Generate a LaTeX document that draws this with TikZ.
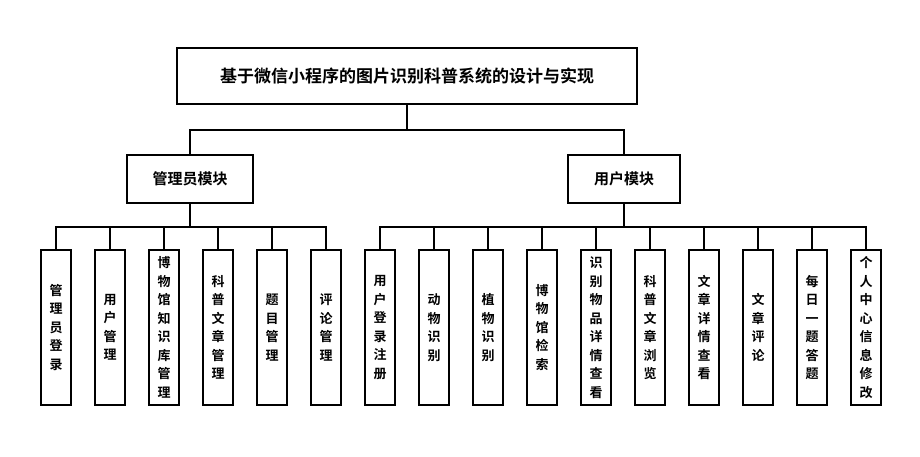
\documentclass[tikz,border=0pt]{standalone}
\usepackage{fontspec}
\newfontfamily\cjk[BoldFont={Noto Sans CJK SC Bold}]{Noto Sans CJK SC}
\begin{document}
\begin{tikzpicture}[x=1pt,y=-1pt,
  box/.style={draw,line width=1.4pt,fill=white,inner sep=0pt,font=\cjk\bfseries},
  leaf/.style={box,minimum width=30pt,minimum height=155pt,font=\cjk\bfseries\fontsize{13}{18.5}\selectfont,align=center},
  ln/.style={line width=1.4pt}]
\useasboundingbox (0,0) rectangle (920,456);
\node[box,minimum width=460pt,minimum height=56pt,font=\cjk\bfseries\fontsize{17}{20}\selectfont] (root) at (407,76) {基于微信小程序的图片识别科普系统的设计与实现};
\node[box,minimum width=126pt,minimum height=48pt,font=\cjk\bfseries\fontsize{15}{18}\selectfont] (adm) at (190,179) {管理员模块};
\node[box,minimum width=112pt,minimum height=48pt,font=\cjk\bfseries\fontsize{15}{18}\selectfont] (usr) at (624,179) {用户模块};
\coordinate (j0) at (407,130);
\draw[ln] (root.south) -- (j0);
\draw[ln] (adm.north) |- (j0) -| (usr.north);
\foreach \t [count=\i] in {管\\理\\员\\登\\录,用\\户\\管\\理,博\\物\\馆\\知\\识\\库\\管\\理,科\\普\\文\\章\\管\\理,题\\目\\管\\理,评\\论\\管\\理}{
  \node[leaf] (a\i) at ({2+54*\i},327.5) {\t};
}
\foreach \t [count=\i] in {用\\户\\登\\录\\注\\册,动\\物\\识\\别,植\\物\\识\\别,博\\物\\馆\\检\\索,识\\别\\物\\品\\详\\情\\查\\看,科\\普\\文\\章\\浏\\览,文\\章\\详\\情\\查\\看,文\\章\\评\\论,每\\日\\一\\题\\答\\题,个\\人\\中\\心\\信\\息\\修\\改}{
  \node[leaf] (u\i) at ({326+54*\i},327.5) {\t};
}
\coordinate (ja) at (190,227);
\coordinate (ju) at (624,227);
\draw[ln] (adm.south) -- (ja);
\draw[ln] (usr.south) -- (ju);
\draw[ln] (a1.north) |- (a6.north |- ja) -- (a6.north);
\draw[ln] (u1.north) |- (u10.north |- ju) -- (u10.north);
\foreach \i in {2,...,5} \draw[ln] (a\i.north) -- (a\i.north |- ja);
\foreach \i in {2,...,9} \draw[ln] (u\i.north) -- (u\i.north |- ju);
\end{tikzpicture}
\end{document}
